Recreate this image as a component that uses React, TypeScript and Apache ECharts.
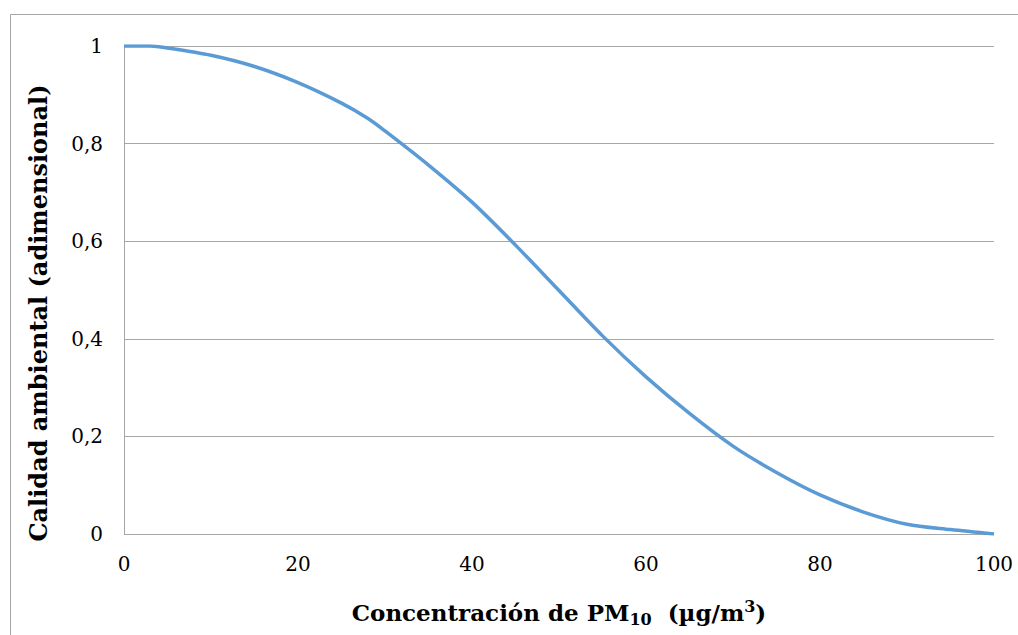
import React, { useEffect, useRef } from "react";
import * as echarts from "echarts";

const concentration = [0, 3, 5, 10, 15, 20, 25, 28, 30, 35, 40, 45, 50, 55, 60, 65, 70, 75, 80, 85, 90, 95, 100];
const quality = [1, 1, 0.996, 0.981, 0.958, 0.925, 0.883, 0.852, 0.826, 0.756, 0.68, 0.592, 0.499, 0.406, 0.322, 0.247, 0.18, 0.126, 0.08, 0.045, 0.02, 0.009, 0];
const xTicks = [0, 20, 40, 60, 80, 100];
const yTicks = [0, 0.2, 0.4, 0.6, 0.8, 1];
const xTitle = ["Concentración de PM", "10", "  (µg/m", "3", ")"];
const yTitle = "Calidad ambiental (adimensional)";

const FONT = "'DejaVu Serif', 'Liberation Serif', serif";

export default function App() {
  const ref = useRef<HTMLDivElement>(null);
  useEffect(() => {
    const chart = echarts.init(ref.current!, null, { renderer: "svg" });
    chart.setOption({
      animation: false,
      backgroundColor: "#ffffff",
      grid: { left: 124, right: 24, top: 46, bottom: 101, containLabel: false },
      xAxis: {
        type: "value",
        min: xTicks[0],
        max: xTicks[xTicks.length - 1],
        interval: 20,
        axisLine: { show: false },
        axisTick: { show: false },
        splitLine: { show: false },
        axisLabel: { fontFamily: FONT, fontSize: 20, color: "#000", margin: 20 },
      },
      yAxis: {
        type: "value",
        min: yTicks[0],
        max: yTicks[yTicks.length - 1],
        interval: 0.2,
        axisLine: { show: true, lineStyle: { color: "#a6a6a6", width: 1 } },
        axisTick: { show: false },
        splitLine: { show: true, lineStyle: { color: "#a6a6a6", width: 1 } },
        axisLabel: {
          fontFamily: FONT,
          fontSize: 20,
          color: "#000",
          margin: 21,
          formatter: (v: number) => (Math.round(v * 10) / 10).toString().replace(".", ","),
        },
      },
      series: [
        {
          type: "line",
          data: concentration.map((c, i) => [c, quality[i]]),
          showSymbol: false,
          smooth: 0.3,
          lineStyle: { color: "#5b9bd5", width: 3.5 },
        },
      ],
      graphic: [
        {
          type: "rect",
          shape: { x: 10.5, y: 14.5, width: 1020, height: 640 },
          style: { fill: "none", stroke: "#a6a6a6", lineWidth: 1 },
          silent: true,
        },
        {
          type: "text",
          x: 559,
          y: 612,
          style: {
            text: `{a|${xTitle[0]}}{s|${xTitle[1]}}{a|${xTitle[2]}}{p|${xTitle[3]}}{a|${xTitle[4]}}`,
            align: "center",
            verticalAlign: "middle",
            rich: {
              a: { fontFamily: FONT, fontWeight: "bold", fontSize: 23, fill: "#000", verticalAlign: "middle" },
              s: { fontFamily: FONT, fontWeight: "bold", fontSize: 16, fill: "#000", padding: [14, 0, 0, 0] },
              p: { fontFamily: FONT, fontWeight: "bold", fontSize: 16, fill: "#000", padding: [0, 0, 12, 0] },
            },
          },
        },
        {
          type: "text",
          x: 38,
          y: 313,
          rotation: Math.PI / 2,
          style: {
            text: yTitle,
            align: "center",
            verticalAlign: "middle",
            fontFamily: FONT,
            fontWeight: "bold",
            fontSize: 24,
            fill: "#000",
          },
        },
      ],
    });
    return () => chart.dispose();
  }, []);
  return (
    <div
      ref={ref}
      style={{ position: "fixed", left: 0, top: 0, width: 1018, height: 635, background: "#fff" }}
    />
  );
}
